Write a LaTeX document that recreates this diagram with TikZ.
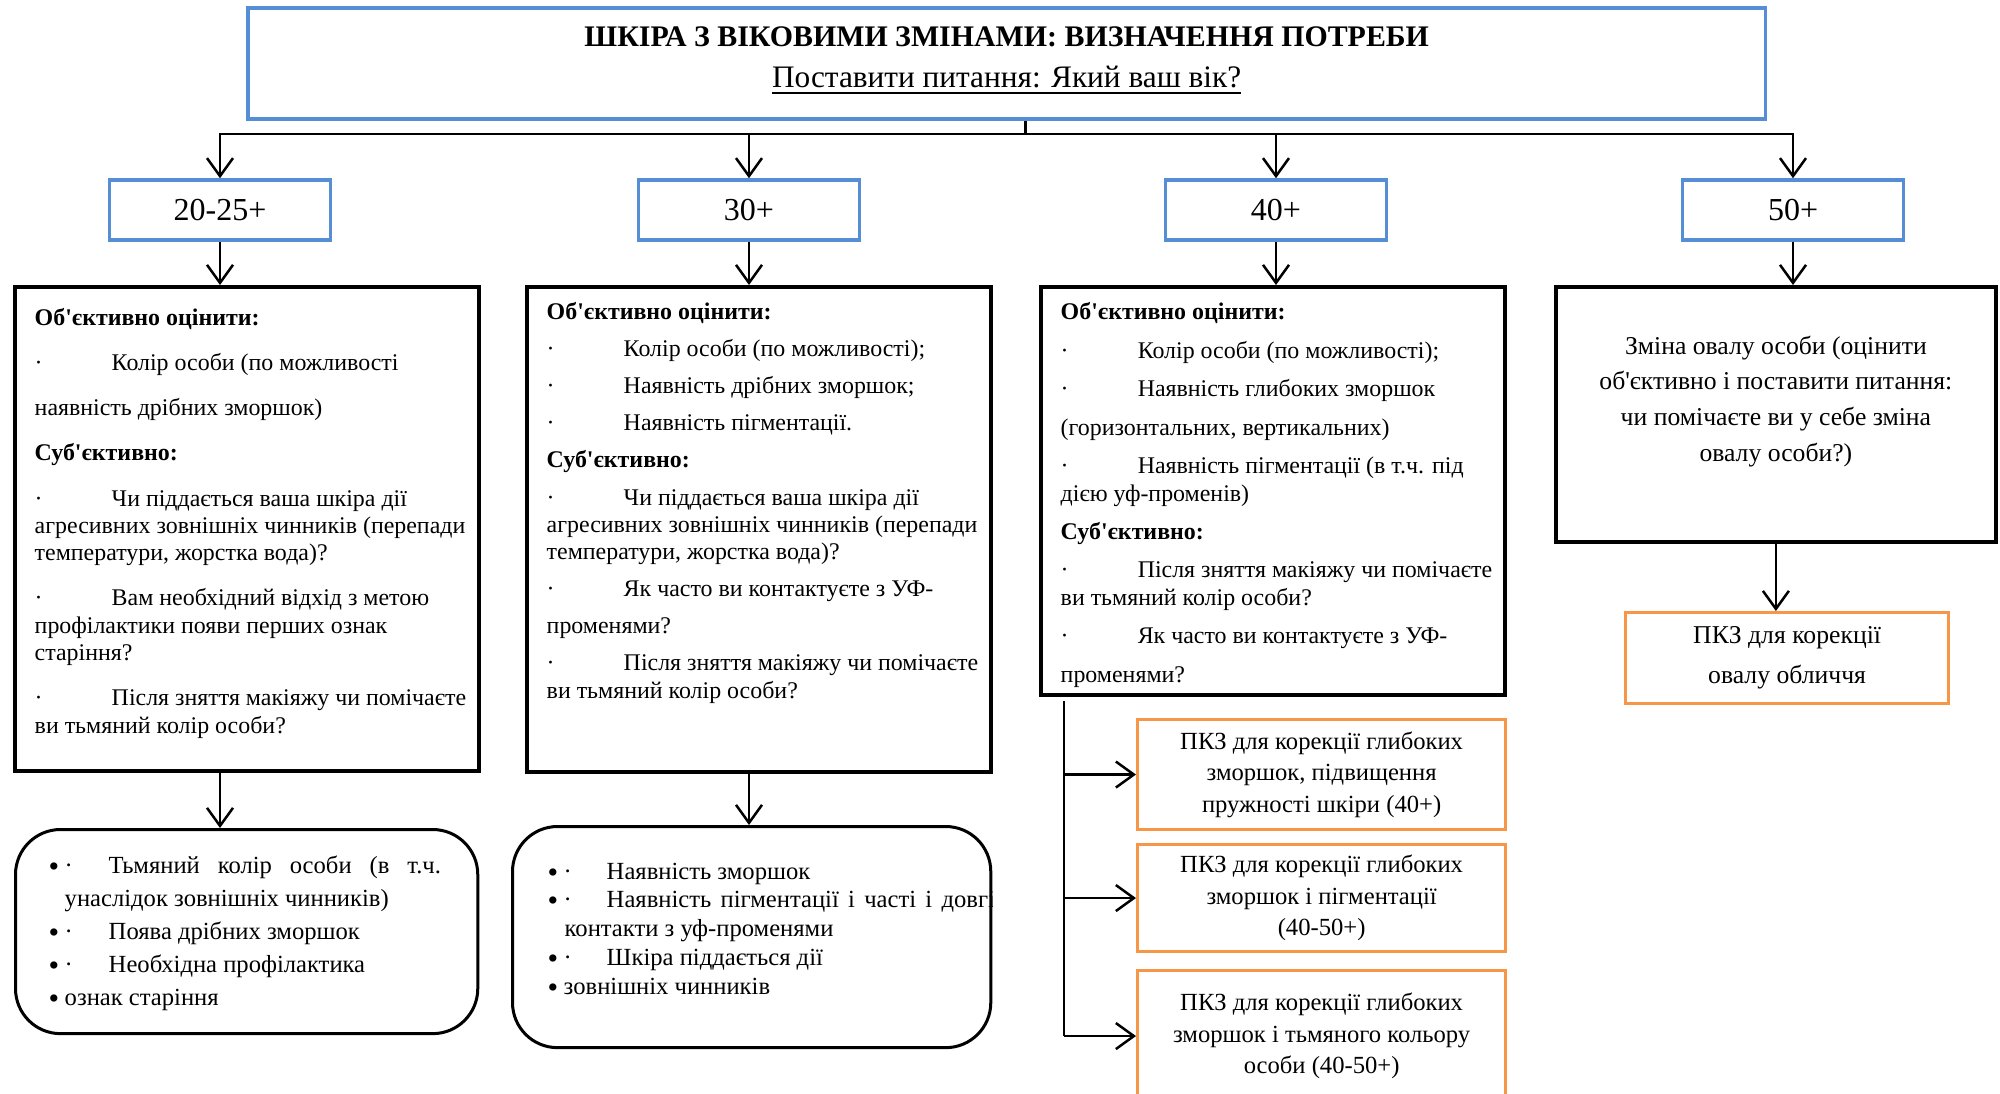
\documentclass[tikz,border=0pt]{standalone}
\usepackage{fontspec}
\setmainfont{Liberation Serif}
\usetikzlibrary{arrows.meta,positioning}
\definecolor{boxblue}{RGB}{85,142,213}
\definecolor{boxorange}{RGB}{247,150,70}
\newcommand{\ap}{\textquotesingle}
\newcommand{\dotb}{\makebox[0.77cm][l]{·}}
\newcommand{\bigb}{\makebox[0.16cm][l]{\raisebox{-0.03cm}{\fontsize{8.6}{8.6}\selectfont •}}}

\begin{document}
\begin{tikzpicture}[x=0.01cm,y=-0.01cm,
  arr/.style={-{Straight Barb[length=1.8mm,width=2.6mm]},line width=0.25mm},
  agebox/.style={draw=boxblue,line width=0.35mm,minimum width=2.21cm,minimum height=0.6cm,inner sep=0pt,font=\fontsize{9.1}{11}\selectfont},
  cbox/.style={draw,line width=0.35mm,anchor=north west,inner sep=0pt},
  rbox/.style={draw,line width=0.3mm,rounded corners=4.5mm,anchor=north west,inner sep=0pt},
  pbox/.style={draw=boxorange,line width=0.3mm,anchor=north west,inner sep=0pt,minimum width=3.68cm,align=center,font=\fontsize{7}{9}\selectfont},
  btxt/.style={align=left,inner sep=0pt,font=\fontsize{6.8}{7.8}\selectfont},
]
\useasboundingbox (0,0) rectangle (2000,1093);
\clip (0,0) rectangle (2000,1093);

% title
\node[draw=boxblue,line width=0.35mm,anchor=north west,minimum width=15.17cm,minimum height=1.11cm] (title) at (246,6) {};
\node[align=center,inner sep=0pt,font=\fontsize{8.5}{11.7}\selectfont,below=0.2cm of title.north] (ttext)
  {\textbf{ШКІРА З ВІКОВИМИ ЗМІНАМИ: ВИЗНАЧЕННЯ ПОТРЕБИ}\\ {\fontsize{8.9}{11.7}\selectfont\underline{Поставити питання: Який ваш вік?}}};

% age groups
\node[agebox] (a1) at (220,210) {20-25+};
\node[agebox] (a2) at (749,210) {30+};
\node[agebox] (a3) at (1276,210) {40+};
\node[agebox] (a4) at (1793,210) {50+};
\coordinate (bus) at (1025,134);
\draw[line width=0.3mm] (title.south -| bus) -- (bus);
\foreach \a in {a1,a2,a3,a4}
  \draw[arr] (bus) -| (\a.north);

% question boxes
\node[cbox,minimum width=4.64cm,minimum height=4.84cm] (b1) at (13,285) {};
\node[cbox,minimum width=4.64cm,minimum height=4.85cm] (b2) at (525,285) {};
\node[cbox,minimum width=4.64cm,minimum height=4.08cm] (b3) at (1039,285) {};
\node[cbox,minimum width=4.40cm,minimum height=2.55cm] (b4) at (1554,285) {};
\foreach \a/\b in {a1/b1,a2/b2,a3/b3,a4/b4}
  \draw[arr] (\a.south) -- (\a.south |- \b.north);

\node[btxt,below right=0.23cm and 0.21cm of b1.north west] (t1)
  {\textbf{Об\ap{}єктивно оцінити:}\\[1.76mm]
   \dotb Колір особи (по можливості\\[1.76mm]
   наявність дрібних зморшок)\\[1.76mm]
   \textbf{Суб\ap{}єктивно:}\\[1.76mm]
   \dotb Чи піддається ваша шкіра дії\\
   агресивних зовнішніх чинників (перепади\\
   температури, жорстка вода)?\\[1.76mm]
   \dotb Вам необхідний відхід з метою\\
   профілактики появи перших ознак\\
   старіння?\\[1.76mm]
   \dotb Після зняття макіяжу чи помічаєте\\
   ви тьмяний колір особи?};
\node[btxt,below right=0.17cm and 0.21cm of b2.north west] (t2)
  {\textbf{Об\ap{}єктивно оцінити:}\\[0.96mm]
   \dotb Колір особи (по можливості);\\[0.96mm]
   \dotb Наявність дрібних зморшок;\\[0.96mm]
   \dotb Наявність пігментації.\\[0.96mm]
   \textbf{Суб\ap{}єктивно:}\\[0.96mm]
   \dotb Чи піддається ваша шкіра дії\\
   агресивних зовнішніх чинників (перепади\\
   температури, жорстка вода)?\\[0.96mm]
   \dotb Як часто ви контактуєте з УФ-\\[0.96mm]
   променями?\\[0.96mm]
   \dotb Після зняття макіяжу чи помічаєте\\
   ви тьмяний колір особи?};
\node[btxt,below right=0.17cm and 0.21cm of b3.north west] (t3)
  {\textbf{Об\ap{}єктивно оцінити:}\\[1.1mm]
   \dotb Колір особи (по можливості);\\[1.1mm]
   \dotb Наявність глибоких зморшок\\[1.1mm]
   (горизонтальних, вертикальних)\\[1.1mm]
   \dotb Наявність пігментації (в т.ч. під\\
   дією уф-променів)\\[1.1mm]
   \textbf{Суб\ap{}єктивно:}\\[1.1mm]
   \dotb Після зняття макіяжу чи помічаєте\\
   ви тьмяний колір особи?\\[1.1mm]
   \dotb Як часто ви контактуєте з УФ-\\[1.1mm]
   променями?};
\node[align=center,inner sep=0pt,font=\fontsize{7.3}{10.2}\selectfont,below=0.5cm of b4.north] (t4)
  {Зміна овалу особи (оцінити\\
   об\ap{}єктивно і поставити питання:\\
   чи помічаєте ви у себе зміна\\
   овалу особи?)};

% 50+
\node[pbox,minimum width=3.23cm,minimum height=0.91cm,font=\fontsize{7.3}{11.4}\selectfont] (o1) at (1624,611)
  {ПКЗ для корекції\\овалу обличчя};
\draw[arr] (b4.south) -- (b4.south |- o1.north);

% 20-25+ and 30+
\node[rbox,minimum width=4.62cm,minimum height=2.04cm] (r1) at (14,828) {};
\node[rbox,minimum width=4.78cm,minimum height=2.21cm] (r2) at (511,825) {};
\draw[arr] (b1.south -| a1.south) -- (r1.north -| a1.south);
\draw[arr] (b2.south -| a2.south) -- (r2.north -| a2.south);

\node[align=left,inner sep=0pt,font=\fontsize{7}{9.4}\selectfont,below right=0.27cm and 0.34cm of r1.north west] (t5)
  {\bigb\makebox[0.44cm][l]{·}\makebox[3.32cm]{Тьмяний\hfill колір\hfill особи\hfill (в\hfill т.ч.}\\
   \hspace*{0.16cm}унаслідок зовнішніх чинників)\\
   \bigb\makebox[0.44cm][l]{·}Поява дрібних зморшок\\
   \bigb\makebox[0.44cm][l]{·}Необхідна профілактика\\
   \bigb ознак старіння};
\begin{scope}
  \clip[rounded corners=4.5mm] (r2.north west) rectangle (r2.south east);
  \node[align=left,inner sep=0pt,font=\fontsize{7}{8.2}\selectfont,below right=0.37cm and 0.36cm of r2.north west] (t6)
    {\bigb\makebox[0.43cm][l]{·}Наявність зморшок\\
     \bigb\makebox[0.43cm][l]{·}\makebox[3.88cm][l]{Наявність\hfill пігментації\hfill і\hfill часті\hfill і\hfill довгі}\\
     \hspace*{0.17cm}контакти з уф-променями\\
     \bigb\makebox[0.43cm][l]{·}Шкіра піддається дії\\
     \bigb зовнішніх чинників};
\end{scope}

% 40+
\node[pbox,minimum height=1.10cm] (p1) at (1136,718)
  {ПКЗ для корекції глибоких\\зморшок, підвищення\\пружності шкіри (40+)};
\node[pbox,minimum height=1.07cm] (p2) at (1136,843)
  {ПКЗ для корекції глибоких\\зморшок і пігментації\\(40-50+)};
\node[pbox,minimum height=1.31cm] (p3) at (1136,969)
  {ПКЗ для корекції глибоких\\зморшок і тьмяного кольору\\особи (40-50+)};
\coordinate (tr) at (1064,701);
\draw[line width=0.25mm] (tr) -- (tr |- p3.west);
\foreach \p in {p1,p2,p3}
  \draw[arr] (tr |- \p.west) -- (\p.west);
\end{tikzpicture}
\end{document}
